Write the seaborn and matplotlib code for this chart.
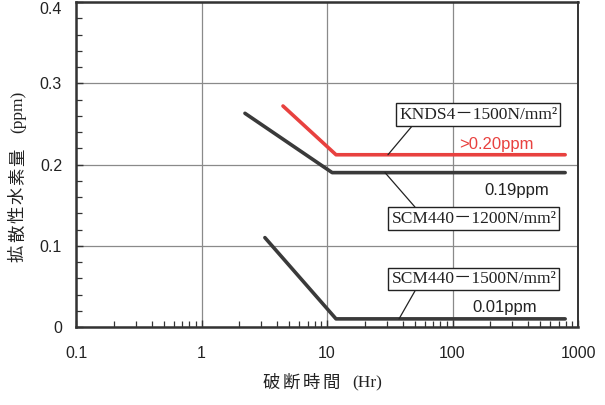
import matplotlib
matplotlib.use("Agg")
import matplotlib.pyplot as plt
import matplotlib.ticker as mticker
import numpy as np
import pandas as pd
import seaborn as sns

sns.set_theme(style="white")
plt.rcParams["font.family"] = ["Liberation Sans", "Noto Sans CJK JP"]

# Rupture time (Hr) vs. diffusible hydrogen content (ppm)
series_names = ["KNDS4－1500N/mm²", "SCM440－1200N/mm²", "SCM440－1500N/mm²"]
knds4_1500_hr = [4.46, 11.8, 790]
knds4_1500_ppm = [0.272, 0.212, 0.212]
scm440_1200_hr = [2.22, 11.0, 790]
scm440_1200_ppm = [0.263, 0.19, 0.19]
scm440_1500_hr = [3.2, 11.8, 790]
scm440_1500_ppm = [0.11, 0.01, 0.01]

value_labels = [">0.20ppm", "0.19ppm", "0.01ppm"]
x_ticks = [0.1, 1, 10, 100, 1000]
x_tick_labels = ["0.1", "1", "10", "100", "1000"]
y_ticks = [0, 0.1, 0.2, 0.3, 0.4]
y_tick_labels = ["0", "0.1", "0.2", "0.3", "0.4"]
x_title = "破断時間"
x_unit = "(Hr)"
y_title = "拡散性水素量"
y_unit = "(ppm)"

RED = "#e8413f"
DARK = "#3a3a3a"
INK = "#222222"

frames = []
for name, xs, ys in zip(series_names,
                        [knds4_1500_hr, scm440_1200_hr, scm440_1500_hr],
                        [knds4_1500_ppm, scm440_1200_ppm, scm440_1500_ppm]):
    frames.append(pd.DataFrame({"hr": xs, "ppm": ys, "steel": name}))
df = pd.concat(frames, ignore_index=True)

W, H = 605, 405
fig = plt.figure(figsize=(W / 100, H / 100), dpi=100)
ax = fig.add_axes([76 / W, 1 - 327 / H, (578 - 76) / W, (327 - 2) / H])

palette = {series_names[0]: RED, series_names[1]: DARK, series_names[2]: DARK}
sns.lineplot(data=df, x="hr", y="ppm", hue="steel", palette=palette,
             units="steel", estimator=None, sort=False, lw=2.6,
             legend=False, ax=ax, zorder=3)

ax.set_xscale("log")
ax.set_xlim(0.1, 1000)
ax.set_ylim(0, 0.4)
ax.set_xticks(x_ticks)
ax.set_xticklabels(x_tick_labels)
ax.set_yticks(y_ticks)
ax.set_yticklabels(y_tick_labels)
ax.xaxis.set_minor_locator(mticker.LogLocator(base=10, subs=np.arange(2, 10)))
ax.xaxis.set_minor_formatter(mticker.NullFormatter())
ax.yaxis.set_minor_locator(mticker.MultipleLocator(0.02))

ax.tick_params(which="both", direction="in", left=True, bottom=True,
               top=False, right=False, colors="#333333")
ax.tick_params(which="major", length=5, width=1.0, labelsize=11.5,
               labelcolor=INK)
ax.tick_params(axis="x", which="major", pad=14)
ax.tick_params(axis="y", which="major", pad=10)
ax.tick_params(which="minor", length=4, width=0.9)
# keep the top tick label inside the figure
ax.get_yticklabels()[-1].set_va("top")

ax.grid(True, which="major", color="#8a8a8a", lw=0.9)
for side, lw in [("left", 1.8), ("bottom", 1.8), ("top", 1.8), ("right", 1.4)]:
    ax.spines[side].set_visible(True)
    ax.spines[side].set_color("#333333")
    ax.spines[side].set_linewidth(lw)

ax.set_xlabel("")
ax.set_ylabel("")

# Axis titles, CJK characters set with wide spacing
pitch = 20
for i, ch in enumerate(x_title):
    fig.text((271 + i * pitch) / W, 1 - 383 / H, ch, ha="center", va="center",
             fontsize=12.5, family=["Noto Sans CJK JP"], color=INK)
fig.text(367 / W, 1 - 383 / H, x_unit, ha="center", va="center",
         fontsize=12.5, family=["Liberation Serif"], color=INK)
for i, ch in enumerate(y_title):
    fig.text(18 / W, 1 - (253 - i * 19.2) / H, ch, ha="center", va="center",
             rotation=90, fontsize=12.5, family=["Noto Sans CJK JP"], color=INK)
fig.text(18 / W, 1 - 112 / H, y_unit, ha="center", va="center",
         rotation=90, fontsize=12.5, family=["Liberation Serif"], color=INK)

# Boxed series labels with leader lines to their curves
box = dict(boxstyle="square,pad=0.18", fc="white", ec=INK, lw=1.0)
label_font = ["Liberation Serif", "Noto Sans CJK JP"]
box_pos = [(160, 0.2615), (148, 0.1335), (148, 0.059)]
for name, (bx, by) in zip(series_names, box_pos):
    ax.text(bx, by, name, ha="center", va="center", fontsize=12.5,
            family=label_font, color=INK, bbox=box, zorder=5)

leaders = [((30.6, knds4_1500_ppm[-1]), (48.4, 0.2486)),
           ((29.0, scm440_1200_ppm[-1]), (50.2, 0.1477)),
           ((37.5, scm440_1500_ppm[-1]), (50.2, 0.0443))]
for (x0, y0), (x1, y1) in leaders:
    ax.plot([x0, x1], [y0, y1], color=INK, lw=0.9, zorder=4)

# Value annotations
value_pos = [(222, 0.2252), (326, 0.1674), (262, 0.0246)]
value_colors = [RED, INK, INK]
for txt, (vx, vy), c in zip(value_labels, value_pos, value_colors):
    ax.text(vx, vy, txt, ha="center", va="center", fontsize=12,
            family=["Liberation Sans Narrow", "Liberation Sans"], color=c,
            zorder=5)

fig.savefig("out.png", dpi=100)
